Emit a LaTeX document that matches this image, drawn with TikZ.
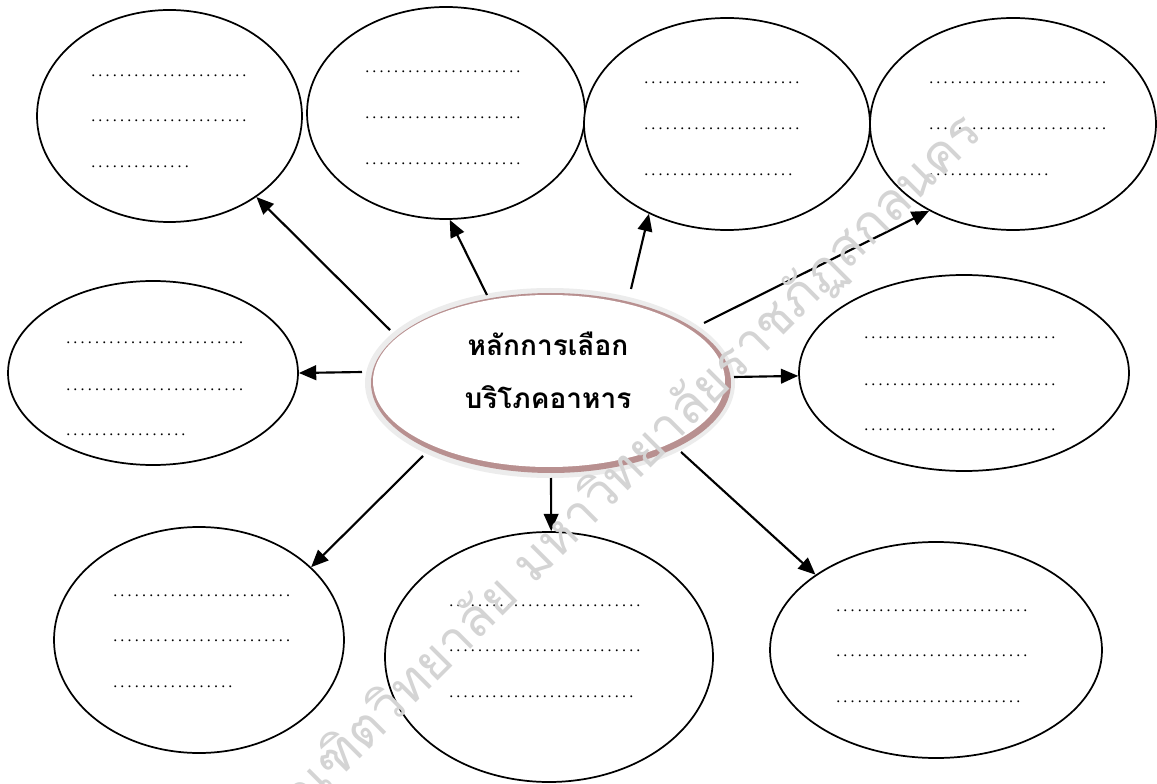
\documentclass[tikz,border=0pt]{standalone}
\usepackage{fontspec}
\setmainfont{Liberation Serif}
\newfontfamily\thaifont[Script=Thai]{Loma}
\usetikzlibrary{arrows.meta,shapes.geometric}
\newcommand\dotrow[1]{\foreach \i in {1,...,#1}{\makebox[5.4pt][l]{.}}}
\begin{document}
\begin{tikzpicture}[x=0.75pt,y=-0.75pt,
  sz/.style n args={2}{minimum width=#1*1.5pt, minimum height=#2*1.5pt},
  bub/.style={ellipse, draw, line width=1.3pt, inner sep=0pt, fill=white},
  dl/.style={anchor=base west, inner sep=0pt, font=\fontsize{12}{12}\selectfont},
  conn/.style={line width=1.6pt, -{Triangle[length=13pt,width=11pt]}},
  ctext/.style={anchor=base, inner sep=0pt, font=\thaifont\bfseries\fontsize{21}{21}\selectfont}]
\useasboundingbox (0,0) rectangle (1157,784);
\fill[white] (0,0) rectangle (1157,784);
% outer ellipses
\node[bub, sz={132.5}{106}] (e1) at (169.5,116) {};
\node[bub, sz={139}{106}] (e2) at (446,113) {};
\node[bub, sz={143}{106}] (e3) at (727,124) {};
\node[bub, sz={143}{106}] (e4) at (1013,124) {};
\node[bub, sz={145}{92}] (e5) at (153,373) {};
\node[bub, sz={165}{98}] (e7) at (964,373) {};
\node[bub, sz={145}{113}] (e8) at (199,640) {};
\node[bub, sz={164}{125}] (e9) at (549,657) {};
\node[bub, sz={166}{108}] (e10) at (936,650) {};
% centre ellipse
\node[ellipse, inner sep=0pt, fill={rgb,255:red,236;green,236;blue,236}, sz={185}{95}] (cg) at (550,383) {};
\node[ellipse, inner sep=0pt, fill={rgb,255:red,184;green,144;blue,144}, sz={180}{90}] (cb) at (551,383) {};
\node[ellipse, inner sep=0pt, fill=white, sz={176}{86}] (c) at (549,381) {};
\node[ctext] (c1) at (548,355) {หลักการเลือก};
\node[ctext] (c2) at (548,408) {บริโภคอาหาร};
% dotted lines
\node[dl] (d11) at (91,77) {\dotrow{22}};
\node[dl] (d12) at (91,122) {\dotrow{22}};
\node[dl] (d13) at (91,168) {\dotrow{14}};
\node[dl] (d21) at (365,73) {\dotrow{22}};
\node[dl] (d22) at (365,119) {\dotrow{22}};
\node[dl] (d23) at (365,165) {\dotrow{22}};
\node[dl] (d31) at (644,84) {\dotrow{22}};
\node[dl] (d32) at (644,130) {\dotrow{22}};
\node[dl] (d33) at (644,176) {\dotrow{21}};
\node[dl] (d41) at (929,84) {\dotrow{25}};
\node[dl] (d42) at (929,130) {\dotrow{25}};
\node[dl] (d43) at (929,176) {\dotrow{17}};
\node[dl] (d51) at (66,344) {\dotrow{25}};
\node[dl] (d52) at (66,390) {\dotrow{25}};
\node[dl] (d53) at (66,435) {\dotrow{17}};
\node[dl] (d71) at (864,339) {\dotrow{27}};
\node[dl] (d72) at (864,385) {\dotrow{27}};
\node[dl] (d73) at (864,431) {\dotrow{27}};
\node[dl] (d81) at (113,596) {\dotrow{25}};
\node[dl] (d82) at (113,641) {\dotrow{25}};
\node[dl] (d83) at (113,687) {\dotrow{17}};
\node[dl] (d91) at (449,606) {\dotrow{27}};
\node[dl] (d92) at (449,651) {\dotrow{27}};
\node[dl] (d93) at (449,697) {\dotrow{26}};
\node[dl] (d101) at (836,611) {\dotrow{27}};
\node[dl] (d102) at (836,656) {\dotrow{27}};
\node[dl] (d103) at (836,702) {\dotrow{26}};
% connector start points
\coordinate (s1) at (390,330);
\coordinate (s2) at (487,295);
\coordinate (s3) at (631,289);
\coordinate (s4) at (704,323);
\coordinate (s5) at (362,372);
\coordinate (s7) at (734,377);
\coordinate (s8) at (423,456);
\coordinate (s9) at (551,478);
\coordinate (s10) at (681,452);
\draw[conn] (s1) -- (e1.-43);
\draw[conn] (s2) -- (e2.-88);
\draw[conn] (s3) -- (e3.229);
\draw[conn] (s4) -- (e4.226.7);
\draw[conn] (s5) -- (e5.0);
\draw[conn] (s7) -- (e7.181.4);
\draw[conn] (s8) -- (e8.33);
\draw[conn] (s9) -- (e9.89);
\draw[conn] (s10) -- (e10.148.7);
% watermark
\node[rotate=45, inner sep=0pt, text={rgb,255:red,212;green,212;blue,212}, font=\thaifont\fontsize{39}{39}\selectfont] (wm) at (620,477) {บัณฑิตวิทยาลัย มหาวิทยาลัยราชภัฏสกลนคร};
\end{tikzpicture}
\end{document}
